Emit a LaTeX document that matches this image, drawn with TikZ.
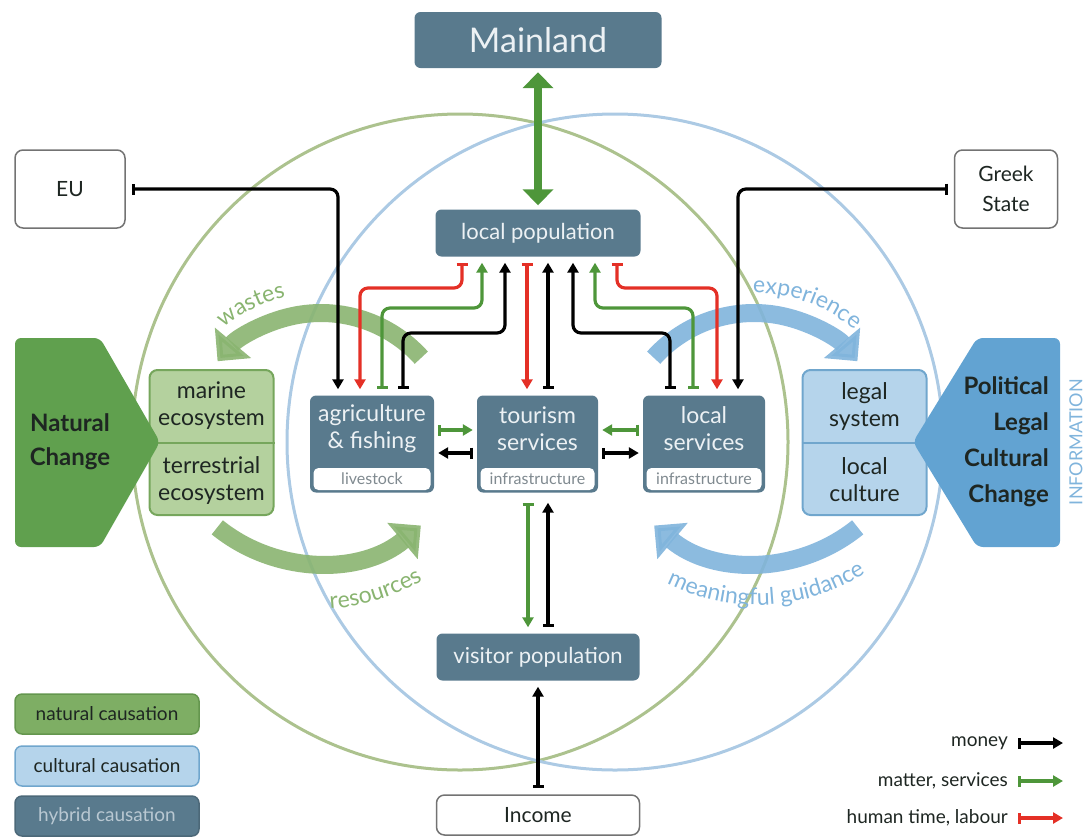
\documentclass[tikz,border=0pt]{standalone}
\usepackage{fontspec}
\setmainfont{Lato}
\usepackage{xcolor}
\usetikzlibrary{arrows.meta,decorations.text}
\def\flowwidth{3.2pt}
\newcommand{\fsz}[2]{\fontsize{#1}{#2}\selectfont}
\definecolor{slate}{RGB}{89,122,141}
\definecolor{slatetext}{RGB}{236,241,244}
\definecolor{slatelight}{RGB}{185,200,210}
\definecolor{natgreen}{RGB}{96,160,78}
\definecolor{ecofill}{RGB}{180,209,158}
\definecolor{ecoline}{RGB}{118,166,92}
\definecolor{natlegend}{RGB}{126,174,100}
\definecolor{natlegendline}{RGB}{100,150,78}
\definecolor{culblue}{RGB}{98,163,210}
\definecolor{legalfill}{RGB}{181,212,235}
\definecolor{legalline}{RGB}{112,166,205}
\definecolor{ringgreen}{RGB}{172,194,142}
\definecolor{ringblue}{RGB}{172,202,228}
\definecolor{arcgreen}{RGB}{137,180,112}
\definecolor{arcblue}{RGB}{128,180,220}
\definecolor{flowgreen}{RGB}{78,150,58}
\definecolor{flowred}{RGB}{228,48,38}
\definecolor{darktext}{RGB}{30,38,34}
\definecolor{greytext}{RGB}{128,138,144}

\begin{document}
\begin{tikzpicture}[x=1pt,y=1pt]
    \tikzstyle{hybrid}=[rectangle,rounded corners=6pt,fill=slate,text=slatetext,inner sep=0pt,align=center]
    \tikzstyle{outside box}=[rectangle,rounded corners=8pt,draw=black!55,line width=1.5pt,fill=white,text=darktext,inner sep=0pt,align=center,font=\fsz{21}{30}]
    \tikzstyle{sector}=[hybrid,minimum height=97pt]
    \tikzstyle{sector text}=[text=slatetext,align=center,inner sep=0pt,font=\fsz{23}{27}]
    \tikzstyle{strip}=[rectangle,rounded corners=5pt,fill=white,text=greytext,inner sep=0pt,minimum width=117pt,minimum height=22pt,font=\fsz{16}{18}]
    \tikzstyle{flowline}=[line width=\flowwidth,rounded corners=8pt,shorten <=6pt,shorten >=6pt,{Bar[width=11pt]}-{Triangle[length=10pt,width=11pt]}]
    \tikzstyle{money}=[flowline,draw=black]
    \tikzstyle{matter}=[flowline,draw=flowgreen]
    \tikzstyle{labour}=[flowline,draw=flowred]
    \tikzstyle{bigarc}=[line width=18pt,opacity=0.9,-{Triangle[length=24pt,width=46pt]}]
    \tikzstyle{arclabel}=[decorate,decoration={text along path,text align=center}]
    \tikzstyle{split box}=[rectangle,rounded corners=8pt,line width=2pt,minimum width=124pt,minimum height=145pt]
    \tikzstyle{split text}=[text=darktext,align=center,inner sep=0pt,font=\fsz{23}{27}]
    \tikzstyle{legendbox}=[rectangle,rounded corners=7pt,line width=1.5pt,minimum width=184pt,minimum height=40pt,inner sep=0pt,font=\fsz{19}{22}]
    \tikzstyle{legendtext}=[anchor=east,inner sep=0pt,text=darktext,font=\fsz{19}{22}]

    \useasboundingbox (0,0) rectangle (1086,-836);

    % Draw the two systems
    \draw[ringgreen,line width=3pt] (460,-442) circle[radius=328];
    \draw[ringblue,line width=3pt] (615,-442) circle[radius=328];

    % Big loops between the systems and the economy
    \draw[bigarc,draw=arcgreen] (321,-448) ++(42:135) arc[start angle=42,end angle=140,radius=135];
    \draw[bigarc,draw=arcgreen] (318,-403) ++(231:160) arc[start angle=231,end angle=310,radius=160];
    \draw[bigarc,draw=arcblue] (754,-448) ++(138:135) arc[start angle=138,end angle=40,radius=135];
    \draw[bigarc,draw=arcblue] (757,-403) ++(309:160) arc[start angle=309,end angle=230,radius=160];
    \path[arclabel,decoration={text={|\fsz{23}{25}\color{arcgreen}|wastes}}]
        (321,-448) ++(140:155) arc[start angle=140,end angle=92,radius=155];
    \path[arclabel,decoration={text={|\fsz{23}{25}\color{arcgreen}|resources}}]
        (318,-403) ++(262:206) arc[start angle=262,end angle=312,radius=206];
    \path[arclabel,decoration={text={|\fsz{23}{25}\color{arcblue}|experience}}]
        (754,-448) ++(96:155) arc[start angle=96,end angle=44,radius=155];
    \path[arclabel,decoration={text={|\fsz{23}{25}\color{arcblue}|meaningful guidance}}]
        (757,-403) ++(232:202) arc[start angle=232,end angle=314,radius=202];

    % Natural side
    \node[split box,fill=ecofill,draw=ecoline] (eco) at (211.5,-442.5) {};
    \draw[ecoline,line width=2pt] (eco.west) -- (eco.east);
    \node[split text] (marine) at (211.5,-406) {marine\\ecosystem};
    \node[split text] (terrestrial) at (211.5,-480) {terrestrial\\ecosystem};
    \fill[natgreen,rounded corners=6pt] (15,-338) -- (100,-338) -- (160,-442) -- (100,-547) -- (15,-547) -- cycle;
    \node[text=darktext,align=center,font=\bfseries\fsz{24}{34}] (natural) at (70,-442) {Natural\\Change};

    % Cultural side
    \node[split box,fill=legalfill,draw=legalline] (legal) at (864.5,-442.5) {};
    \draw[legalline,line width=2pt] (legal.west) -- (legal.east);
    \node[split text] (system) at (864.5,-406) {legal\\system};
    \node[split text] (culture) at (864.5,-480) {local\\culture};
    \fill[culblue,rounded corners=6pt] (977,-338) -- (1060,-338) -- (1060,-547) -- (977,-547) -- (913,-442) -- cycle;
    \node[anchor=east,text=darktext,align=right,inner sep=0pt,font=\bfseries\fsz{24}{36}] (political) at (1049,-442) {Political\\Legal\\Cultural\\Change};
    \node[rotate=90,text=arcblue,font=\fsz{18}{20}] (info) at (1076,-442) {INFORMATION};

    % Draw the outside actors
    \node[hybrid,minimum width=247pt,minimum height=56pt,font=\fsz{34}{36}] (mainland) at (538,-40) {Mainland};
    \node[outside box,minimum width=110pt,minimum height=78pt] (eu) at (70,-189) {EU};
    \node[outside box,minimum width=103pt,minimum height=78pt] (greek) at (1006,-189) {Greek\\State};
    \node[outside box,minimum width=203pt,minimum height=40pt] (income) at (538,-815) {Income};

    % Draw the populations
    \node[hybrid,minimum width=205pt,minimum height=47pt,font=\fsz{22}{24}] (lpop) at (538,-233) {local population};
    \node[hybrid,minimum width=203pt,minimum height=47pt,font=\fsz{22}{24}] (visitor) at (538,-657) {visitor population};

    % Draw the sectors
    \node[sector,minimum width=124pt] (agri) at (372,-444) {};
    \node[sector,minimum width=121pt] (tour) at (537.5,-444) {};
    \node[sector,minimum width=122pt] (lserv) at (704,-444) {};
    \node[sector text] (agri-t) at (372,-429) {agriculture\\\& fishing};
    \node[sector text] (tour-t) at (537.5,-429) {tourism\\services};
    \node[sector text] (lserv-t) at (704,-429) {local\\services};
    \node[strip] (agri-s) at (372,-479) {livestock};
    \node[strip,minimum width=114pt] (tour-s) at (537.5,-479) {infrastructure};
    \node[strip,minimum width=115pt] (lserv-s) at (704,-479) {infrastructure};

    % Connect the mainland with the local population
    \draw[draw=flowgreen,line width=8pt,shorten <=4pt,shorten >=4pt,
        {Triangle[length=16pt,width=30pt]}-{Triangle[length=16pt,width=30pt]}] (mainland) -- (lpop);

    % Flows from the local population down to the sectors
    \foreach \xa/\xb/\yb/\bx/\kind in {462/360/288/agri/labour, 527/527/300/tour/labour, 617/717/288/lserv/labour}
        \draw[\kind] (\xa,0 |- lpop.south) |- (\xb,-\yb) -- (\xb,0 |- \bx.north);
    % Flows from the sectors up to the local population
    \foreach \xa/\xb/\yb/\bx/\kind in {382/482/308/agri/matter, 403/505/333/agri/money, 548/548/320/tour/money,
                                       670/573/333/lserv/money, 693/595/308/lserv/matter}
        \draw[\kind] (\xa,0 |- \bx.north) |- (\xb,-\yb) -- (\xb,0 |- lpop.south);

    % Subsidies from EU and the Greek State
    \draw[money] (eu.east) -| (338,0 |- agri.north);
    \draw[money] (greek.west) -| (738,0 |- lserv.north);

    % Flows between the sectors
    \draw[matter,shorten <=4pt,shorten >=4pt] (agri.east |- 0,-430) -- (tour.west |- 0,-430);
    \draw[money,shorten <=4pt,shorten >=4pt] (tour.west |- 0,-453) -- (agri.east |- 0,-453);
    \draw[matter,shorten <=4pt,shorten >=4pt] (lserv.west |- 0,-430) -- (tour.east |- 0,-430);
    \draw[money,shorten <=4pt,shorten >=4pt] (tour.east |- 0,-453) -- (lserv.west |- 0,-453);

    % Visitors
    \draw[matter,shorten <=10pt] (528,0 |- tour.south) -- (528,0 |- visitor.north);
    \draw[money,shorten >=10pt] (548,0 |- visitor.north) -- (548,0 |- tour.south);
    \draw[money] (income) -- (visitor);

    % Legend
    \node[legendbox,fill=natlegend,draw=natlegendline,text=darktext] (natural-c) at (107,-714) {natural causation};
    \node[legendbox,fill=legalfill,draw=legalline,text=darktext] (cultural-c) at (107,-766) {cultural causation};
    \node[legendbox,fill=slate,draw=slate!85!black,text=slatelight] (hybrid-c) at (107,-816) {hybrid causation};
    \foreach \kind/\lab/\y in {money/money/743, matter/{matter, services}/781, labour/{human time, labour}/818}{
        \node[legendtext] (leg-\kind) at (1008,-\y) {\lab};
        \coordinate (tip-\kind) at (1063,-\y);
        \draw[\kind,shorten <=10pt,shorten >=0pt] (leg-\kind.east) -- (tip-\kind);
    }
\end{tikzpicture}
\end{document}
